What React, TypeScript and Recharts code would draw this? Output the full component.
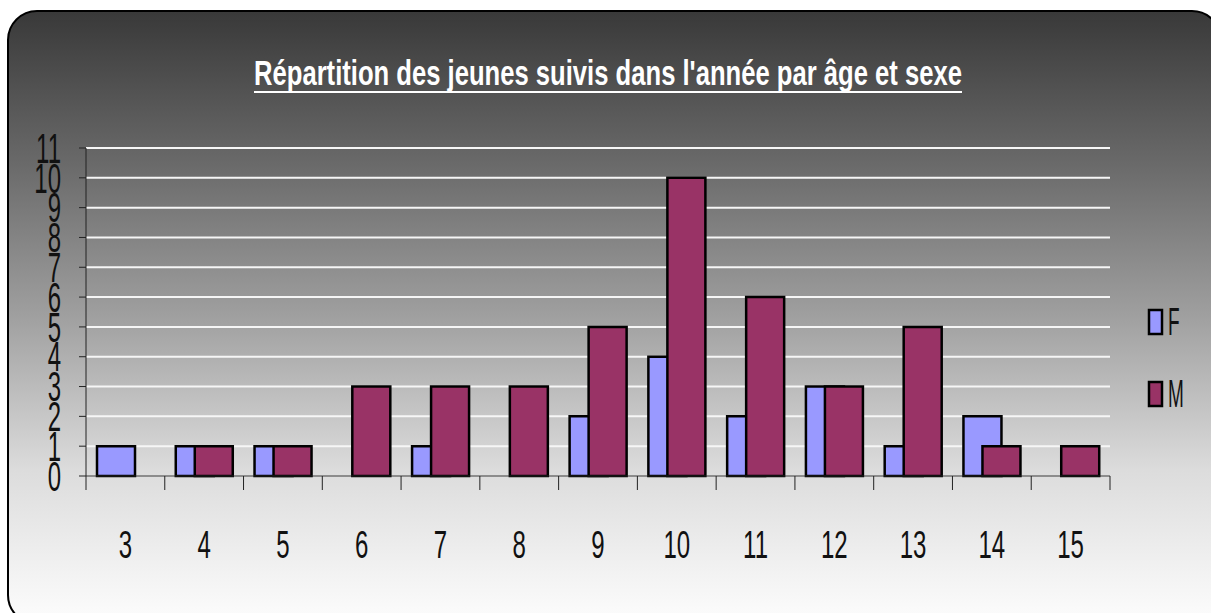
import React from 'react';
import { BarChart, Bar, XAxis, YAxis, CartesianGrid } from 'recharts';

// ages on the x axis
const ages = ['3', '4', '5', '6', '7', '8', '9', '10', '11', '12', '13', '14', '15'];
// girls / boys per age
const girls = [1, 1, 1, 0, 1, 0, 2, 4, 2, 3, 1, 2, 0];
const boys = [0, 1, 1, 3, 3, 3, 5, 10, 6, 3, 5, 1, 1];
const yTicks = [0, 1, 2, 3, 4, 5, 6, 7, 8, 9, 10, 11];
const title = "Répartition des jeunes suivis dans l'année par âge et sexe";

const series = [
  { key: 'F', label: 'F', color: '#9999FF' },
  { key: 'M', label: 'M', color: '#993366' },
];

const data = ages.map((age, i) => ({ age, F: girls[i], M: boys[i] }));

const W = 1211;
const H = 613;
const PLOT_LEFT = 86;
const PLOT_RIGHT = 1110;
const BAND = (PLOT_RIGHT - PLOT_LEFT) / ages.length;
const FONT = "'Liberation Sans', Arial, sans-serif";

const XTick = (props: any) => {
  const { x, y, payload, index } = props;
  const ly = y + 68;
  return (
    <g>
      <line x1={x - BAND / 2} x2={x - BAND / 2} y1={y} y2={y + 14} stroke="#222" strokeWidth={1} />
      {index === ages.length - 1 && (
        <line x1={x + BAND / 2} x2={x + BAND / 2} y1={y} y2={y + 14} stroke="#222" strokeWidth={1} />
      )}
      <text
        x={x}
        y={ly}
        textAnchor="middle"
        dominantBaseline="central"
        fontFamily={FONT}
        fontSize={24}
        fill="#111"
        transform={`translate(${x} ${ly}) scale(1 1.65) translate(${-x} ${-ly})`}
      >
        {payload.value}
      </text>
    </g>
  );
};

const YTick = (props: any) => {
  const { x, y, payload } = props;
  return (
    <text
      x={x}
      y={y}
      textAnchor="end"
      dominantBaseline="central"
      fontFamily={FONT}
      fontSize={24}
      fill="#111"
      transform={`translate(${x} ${y}) scale(1 1.75) translate(${-x} ${-y})`}
    >
      {payload.value}
    </text>
  );
};

const App = () => {
  return (
    <div style={{ position: 'absolute', left: 0, top: 0, width: W, height: H, overflow: 'hidden', background: '#fff' }}>
      <div
        style={{
          position: 'absolute',
          left: 7,
          top: 10,
          width: 1215,
          height: 615,
          boxSizing: 'border-box',
          border: '2px solid #000',
          borderRadius: 30,
          background: 'linear-gradient(to bottom, #393939 0%, #6a6a6a 25%, #a0a0a0 50%, #dcdcdc 75%, #fdfdfd 100%)',
        }}
      />
      <svg width={W} height={H} style={{ position: 'absolute', left: 0, top: 0 }}>
        <text
          x={608}
          y={85}
          textAnchor="middle"
          fontFamily={FONT}
          fontWeight="bold"
          fontSize={35}
          fill="#fff"
          textLength={708}
          lengthAdjust="spacingAndGlyphs"
        >
          {title}
        </text>
        <line x1={254} x2={962} y1={92} y2={92} stroke="#fff" strokeWidth={2} />
        {series.map((s, i) => {
          const cy = 322 + i * 72;
          return (
            <g key={s.key}>
              <rect x={1149} y={cy - 12} width={13} height={24} fill={s.color} stroke="#000" strokeWidth={2.5} />
              <text
                x={1168}
                y={cy}
                dominantBaseline="central"
                fontFamily={FONT}
                fontSize={19}
                fill="#111"
                transform={`translate(1168 ${cy}) scale(1 2) translate(-1168 ${-cy})`}
              >
                {s.label}
              </text>
            </g>
          );
        })}
      </svg>
      <div style={{ position: 'absolute', left: 0, top: 0 }}>
        <BarChart
          width={W}
          height={H}
          data={data}
          margin={{ top: 148, right: W - PLOT_RIGHT, bottom: 77, left: 0 }}
          barSize={38}
          barGap={-19}
        >
          <CartesianGrid vertical={false} stroke="#f6f6f6" strokeWidth={2} strokeDasharray="" />
          <XAxis
            dataKey="age"
            height={60}
            interval={0}
            tickLine={false}
            tickSize={0}
            tickMargin={0}
            axisLine={{ stroke: '#222', strokeWidth: 1 }}
            tick={<XTick />}
          />
          <YAxis
            width={PLOT_LEFT}
            domain={[0, 11]}
            ticks={yTicks}
            interval={0}
            tickSize={7}
            tickMargin={18}
            axisLine={{ stroke: '#222', strokeWidth: 1 }}
            tickLine={{ stroke: '#222', strokeWidth: 1 }}
            tick={<YTick />}
          />
          {series.map((s) => (
            <Bar key={s.key} dataKey={s.key} name={s.label} fill={s.color} stroke="#000" strokeWidth={2.5} isAnimationActive={false} />
          ))}
        </BarChart>
      </div>
    </div>
  );
};

export default App;
